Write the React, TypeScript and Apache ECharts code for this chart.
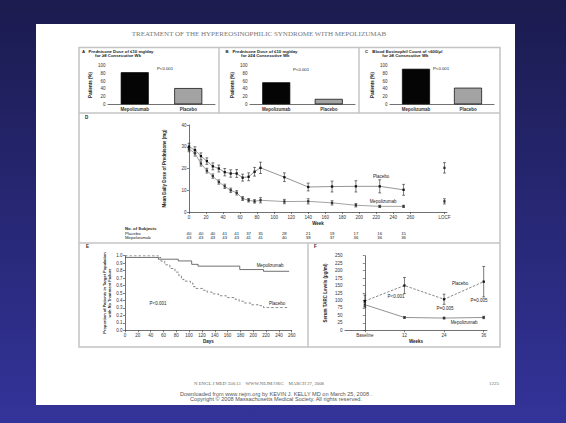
import React, { useEffect, useRef } from 'react';
import * as echarts from 'echarts';

// ---------- data ----------
const barCategories = ['Mepolizumab', 'Placebo'];
const panelAValues = [83, 42];
const panelBValues = [57, 14];
const panelCValues = [92, 43];
const barColors = ['#050505', '#a3a3a3'];

const weeksD = [0, 7, 14, 21, 28, 35, 42, 49, 56, 63, 70, 77, 84, 112, 140, 168, 196, 224, 252];
const placeboD = [30, 28.5, 25.7, 23.4, 21, 20, 18.3, 17.7, 17.7, 15.8, 16.2, 18.5, 20.3, 16, 11.5, 11.7, 11.8, 11.8, 10.2];
const placeboDErr = [1.6, 1.5, 1.5, 1.5, 1.6, 1.6, 1.7, 1.7, 1.8, 1.6, 1.8, 2, 2.6, 2, 1.8, 2.5, 2.6, 3, 2.5];
const mepoD = [29, 27, 22.3, 19, 16.5, 13.8, 11.8, 10, 8.8, 6.2, 5.4, 4.9, 5.4, 4.8, 4.9, 4.2, 3.1, 2.6, 2.6];
const mepoDErr = [1.3, 1.3, 1.2, 1.1, 1, 1, 1, 1, 1, 0.9, 0.8, 0.8, 1.2, 1, 1.2, 1, 0.8, 0.5, 0.5];
const locfWeek = 300;
const locfPlacebo = 20.3;
const locfPlaceboErr = 2.4;
const locfMepo = 4.9;
const locfMepoErr = 1.2;
const weekTickValues = [0, 20, 40, 60, 80, 100, 120, 140, 160, 180, 200, 220, 240, 260, 300];

const subjectWeeks = [0, 14, 28, 42, 56, 70, 84, 112, 140, 168, 196, 224, 252];
const subjectsPlacebo = [40, 40, 40, 41, 41, 37, 35, 28, 21, 19, 17, 16, 15];
const subjectsMepo = [43, 43, 43, 43, 43, 41, 41, 40, 38, 37, 36, 36, 36];
const subjectRows = ['Placebo', 'Mepolizumab'];

// Kaplan-Meier steps: [day, proportion after event]
const kmMepo: [number, number][] = [
  [0, 0.977], [52, 0.953], [83, 0.93], [104, 0.884], [114, 0.86], [179, 0.814], [216, 0.791], [256, 0.791],
];
const kmPlacebo: [number, number][] = [
  [0, 1.0], [52, 0.976], [56, 0.927], [62, 0.878], [70, 0.829], [78, 0.78], [84, 0.732], [88, 0.683],
  [92, 0.659], [102, 0.634], [106, 0.585], [110, 0.561], [122, 0.537], [128, 0.512], [136, 0.488],
  [146, 0.463], [158, 0.439], [172, 0.415], [178, 0.39], [185, 0.366], [196, 0.342], [208, 0.33],
  [216, 0.305], [256, 0.305],
];

const weeksF = [0, 12, 24, 36];
const placeboF = [98, 150, 104, 163];
const placeboFErr = [20, 27, 17, 51];
const mepoF = [86, 43, 41, 43];
const mepoFErr = [8, 3, 3, 4];

// ---------- helpers ----------
const FONT = 'Liberation Sans';
const AX = '#333';

function errorRender(params: any, api: any) {
  const x = api.value(0);
  const lo = api.coord([x, api.value(1)]);
  const hi = api.coord([x, api.value(2)]);
  const w = 1.4;
  const st = { stroke: '#222', lineWidth: 0.6 };
  return {
    type: 'group',
    children: [
      { type: 'line', shape: { x1: lo[0], y1: lo[1], x2: hi[0], y2: hi[1] }, style: st },
      { type: 'line', shape: { x1: lo[0] - w, y1: lo[1], x2: lo[0] + w, y2: lo[1] }, style: st },
      { type: 'line', shape: { x1: hi[0] - w, y1: hi[1], x2: hi[0] + w, y2: hi[1] }, style: st },
    ],
  };
}

function countRender(params: any, api: any) {
  const p = api.coord([api.value(0), api.value(1)]);
  return {
    type: 'text',
    x: p[0],
    y: p[1],
    style: {
      text: String(api.value(2)),
      fontSize: 4.3,
      fontFamily: FONT,
      fill: '#222222',
      stroke: 'none',
      align: 'center',
      verticalAlign: 'middle',
    },
  };
}

const axisBase = {
  axisLine: { lineStyle: { color: AX, width: 0.7 } },
  axisTick: { length: 2, lineStyle: { color: AX, width: 0.6 } },
  axisLabel: { fontSize: 4.5, color: '#333', margin: 2.5, fontFamily: FONT },
  splitLine: { show: false },
  nameTextStyle: { fontSize: 4.5, color: '#222', fontWeight: 'bold' as const, fontFamily: FONT },
};

function txt(x: number, y: number, text: string, size = 4.5, opts: any = {}) {
  return {
    type: 'text',
    x,
    y,
    silent: true,
    style: {
      text,
      fontSize: size,
      fontFamily: opts.family || FONT,
      fontWeight: opts.weight || 'normal',
      fill: opts.fill || '#222',
      align: opts.align || 'center',
      verticalAlign: 'middle',
    },
  };
}

function barPanel(gridIndex: number, values: number[]) {
  return {
    type: 'bar',
    xAxisIndex: gridIndex,
    yAxisIndex: gridIndex,
    barWidth: 28,
    data: values.map((v, i) => ({
      value: v,
      itemStyle: { color: barColors[i], borderColor: '#000', borderWidth: 0.7 },
    })),
  };
}

function barXAxis(gridIndex: number) {
  return {
    ...axisBase,
    type: 'category',
    gridIndex,
    data: barCategories,
    axisTick: { show: false },
    axisLabel: { ...axisBase.axisLabel, fontWeight: 'bold', margin: 3 },
  };
}
function barYAxis(gridIndex: number) {
  return {
    ...axisBase,
    type: 'value',
    gridIndex,
    min: 0,
    max: 100,
    interval: 20,
    name: 'Patients (%)',
    nameLocation: 'middle',
    nameGap: 15,
  };
}

export default function App() {
  const ref = useRef<HTMLDivElement>(null);
  useEffect(() => {
    if (!ref.current) return;
    const chart = echarts.init(ref.current, undefined, { renderer: 'svg' });

    const borderStyle = { stroke: '#c4c4c4', lineWidth: 1.5, fill: 'none' };
    const graphic: any[] = [
      {
        type: 'rect', silent: true, z: -10,
        shape: { x: 0, y: 0, width: 566, height: 423 },
        style: {
          fill: new echarts.graphic.LinearGradient(0, 0, 0, 1, [
            { offset: 0, color: '#1b1b4f' },
            { offset: 1, color: '#33339a' },
          ]),
        },
      },
      { type: 'rect', silent: true, z: -9, shape: { x: 36, y: 24, width: 479, height: 381 }, style: { fill: '#ffffff' } },
      { type: 'rect', silent: true, z: -8, shape: { x: 79, y: 47.5, width: 421, height: 299.5 }, style: borderStyle },
      { type: 'line', silent: true, shape: { x1: 219, y1: 47.5, x2: 219, y2: 113 }, style: borderStyle },
      { type: 'line', silent: true, shape: { x1: 359, y1: 47.5, x2: 359, y2: 113 }, style: borderStyle },
      { type: 'line', silent: true, shape: { x1: 79, y1: 113, x2: 500, y2: 113 }, style: borderStyle },
      { type: 'line', silent: true, shape: { x1: 79, y1: 243, x2: 500, y2: 243 }, style: borderStyle },
      { type: 'line', silent: true, shape: { x1: 308, y1: 243, x2: 308, y2: 347 }, style: borderStyle },
      // header & footer
      txt(259, 34, 'TREATMENT OF THE HYPEREOSINOPHILIC SYNDROME WITH MEPOLIZUMAB', 7, { family: 'Liberation Serif', fill: '#777' }),
      txt(259, 383, 'N ENGL J MED 358;13    WWW.NEJM.ORG    MARCH 27, 2008', 4.8, { family: 'Liberation Serif', fill: '#666' }),
      txt(499, 383, '1225', 5, { family: 'Liberation Serif', fill: '#666', align: 'right' }),
      txt(276, 393.5, 'Downloaded from www.nejm.org by KEVIN J. KELLY MD on March 25, 2008 .', 5.6, { fill: '#555' }),
      txt(276, 399.3, 'Copyright © 2008 Massachusetts Medical Society. All rights reserved.', 5.6, { fill: '#555' }),
      // panel titles
      txt(82, 51.5, 'A', 4.3, { weight: 'bold', align: 'left' }),
      txt(88.5, 51.5, 'Prednisone Dose of ≤10 mg/day', 4.3, { weight: 'bold', align: 'left' }),
      txt(95, 55.8, 'for ≥8 Consecutive Wk', 4.3, { weight: 'bold', align: 'left' }),
      txt(225.5, 51.5, 'B', 4.3, { weight: 'bold', align: 'left' }),
      txt(232.5, 51.5, 'Prednisone Dose of ≤10 mg/day', 4.3, { weight: 'bold', align: 'left' }),
      txt(241, 55.8, 'for ≥24 Consecutive Wk', 4.3, { weight: 'bold', align: 'left' }),
      txt(365, 51.5, 'C', 4.3, { weight: 'bold', align: 'left' }),
      txt(372.3, 51.5, 'Blood Eosinophil Count of <600/μl', 4.3, { weight: 'bold', align: 'left' }),
      txt(382.3, 55.8, 'for ≥8 Consecutive Wk', 4.3, { weight: 'bold', align: 'left' }),
      txt(157, 68, 'P<0.001', 4.3, { align: 'left' }),
      txt(293, 69, 'P<0.001', 4.3, { align: 'left' }),
      txt(433, 68, 'P<0.001', 4.3, { align: 'left' }),
      // panel D
      txt(85, 117, 'D', 4.5, { weight: 'bold', align: 'left' }),
      txt(381, 176, 'Placebo', 4.5),
      txt(383, 201, 'Mepolizumab', 4.5),
      txt(125, 228.5, 'No. of Subjects', 4.3, { weight: 'bold', align: 'left' }),
      txt(125, 233.3, 'Placebo', 4.3, { align: 'left' }),
      txt(125, 237.8, 'Mepolizumab', 4.3, { align: 'left' }),
      // panel E
      txt(86, 246, 'E', 4.5, { weight: 'bold', align: 'left' }),
      txt(270, 265, 'Mepolizumab', 4.5),
      txt(277, 303, 'Placebo', 4.5),
      txt(158, 303, 'P<0.001', 4.5),
      // panel F
      txt(314, 246, 'F', 4.5, { weight: 'bold', align: 'left' }),
      txt(460, 283, 'Placebo', 4.5),
      txt(464, 322, 'Mepolizumab', 4.5),
      txt(396, 296, 'P<0.001', 4.5),
      txt(445, 308, 'P=0.005', 4.5),
      txt(479, 300, 'P=0.005', 4.5),
    ];

    const option: any = {
      animation: false,
      textStyle: { fontFamily: FONT },
      graphic,
      grid: [
        { left: 108, top: 65.7, width: 107, height: 38.6 },
        { left: 250, top: 65.7, width: 105, height: 38.6 },
        { left: 390, top: 65.7, width: 104, height: 38.6 },
        { left: 189, top: 125, width: 258, height: 87 },
        { left: 189, top: 231, width: 258, height: 9 },
        { left: 125, top: 255.7, width: 166.7, height: 74.6 },
        { left: 345, top: 255.7, width: 142, height: 74.6 },
      ],
      xAxis: [
        barXAxis(0),
        barXAxis(1),
        barXAxis(2),
        {
          ...axisBase,
          type: 'value', gridIndex: 3, min: 0, max: 303, interval: 20,
          name: 'Week', nameLocation: 'middle', nameGap: 9,
          axisTick: { ...axisBase.axisTick, customValues: weekTickValues },
          axisLabel: {
            ...axisBase.axisLabel,
            customValues: weekTickValues,
            formatter: (v: number) => (v === locfWeek ? 'LOCF' : v === 280 ? '' : String(v)),
          },
        },
        { type: 'value', gridIndex: 4, min: 0, max: 303, show: false },
        {
          ...axisBase,
          type: 'value', gridIndex: 5, min: 0, max: 260, interval: 20,
          name: 'Days', nameLocation: 'middle', nameGap: 9,
        },
        {
          ...axisBase,
          type: 'value', gridIndex: 6, min: -6, max: 37,
          name: 'Weeks', nameLocation: 'middle', nameGap: 9,
          axisTick: { ...axisBase.axisTick, customValues: weeksF },
          axisLabel: {
            ...axisBase.axisLabel,
            customValues: weeksF,
            formatter: (v: number) => (v === 0 ? 'Baseline' : String(v)),
          },
        },
      ],
      yAxis: [
        barYAxis(0),
        barYAxis(1),
        barYAxis(2),
        {
          ...axisBase,
          type: 'value', gridIndex: 3, min: 0, max: 40, interval: 10,
          name: 'Mean Daily Dose of Prednisone (mg)', nameLocation: 'middle', nameGap: 22,
        },
        { type: 'category', gridIndex: 4, data: subjectRows, inverse: true, show: false },
        {
          ...axisBase,
          type: 'value', gridIndex: 5, min: 0, max: 1, interval: 0.1,
          axisLabel: { ...axisBase.axisLabel, formatter: (v: number) => v.toFixed(1) },
          name: 'Proportion of Patients in Target Population\nwith No Treatment Failure',
          nameLocation: 'middle', nameGap: 11,
          nameTextStyle: { ...axisBase.nameTextStyle, fontSize: 4, lineHeight: 5 },
        },
        {
          ...axisBase,
          type: 'value', gridIndex: 6, min: 0, max: 250, interval: 25,
          name: 'Serum TARC Levels (pg/ml)', nameLocation: 'middle', nameGap: 17,
        },
      ],
      series: [
        barPanel(0, panelAValues),
        barPanel(1, panelBValues),
        barPanel(2, panelCValues),
        // Panel D
        {
          type: 'line', xAxisIndex: 3, yAxisIndex: 3,
          data: weeksD.map((w, i) => [w, placeboD[i]]),
          lineStyle: { color: '#7a7a7a', width: 0.8 },
          symbol: 'rect', symbolSize: 2.3, itemStyle: { color: '#111' },
        },
        {
          type: 'line', xAxisIndex: 3, yAxisIndex: 3,
          data: weeksD.map((w, i) => [w, mepoD[i]]),
          lineStyle: { color: '#8a8a8a', width: 0.8 },
          symbol: 'rect', symbolSize: 2.3, itemStyle: { color: '#333' },
        },
        {
          type: 'scatter', xAxisIndex: 3, yAxisIndex: 3,
          data: [[locfWeek, locfPlacebo], [locfWeek, locfMepo]],
          symbol: 'rect', symbolSize: 2.3, itemStyle: { color: '#111' },
        },
        {
          type: 'custom', xAxisIndex: 3, yAxisIndex: 3, renderItem: errorRender,
          itemStyle: { color: '#222' },
          encode: { x: 0, y: [1, 2] },
          data: [
            ...weeksD.map((w, i) => [w, placeboD[i] - placeboDErr[i], placeboD[i] + placeboDErr[i]]),
            ...weeksD.map((w, i) => [w, mepoD[i] - mepoDErr[i], mepoD[i] + mepoDErr[i]]),
            [locfWeek, locfPlacebo - locfPlaceboErr, locfPlacebo + locfPlaceboErr],
            [locfWeek, locfMepo - locfMepoErr, locfMepo + locfMepoErr],
          ],
        },
        // subject counts
        {
          type: 'custom', xAxisIndex: 4, yAxisIndex: 4, renderItem: countRender,
          itemStyle: { color: '#222' },
          encode: { x: 0, y: 1 },
          data: [
            ...subjectWeeks.map((w, i) => [w, 0, subjectsPlacebo[i]]),
            ...subjectWeeks.map((w, i) => [w, 1, subjectsMepo[i]]),
          ],
        },
        // Panel E
        {
          type: 'line', xAxisIndex: 5, yAxisIndex: 5, step: 'end', symbol: 'none',
          data: kmMepo, lineStyle: { color: '#333', width: 0.7 },
        },
        {
          type: 'line', xAxisIndex: 5, yAxisIndex: 5, step: 'end', symbol: 'none',
          data: kmPlacebo, lineStyle: { color: '#555', width: 0.7, type: [2.5, 2] },
        },
        // Panel F
        {
          type: 'line', xAxisIndex: 6, yAxisIndex: 6,
          data: weeksF.map((w, i) => [w, placeboF[i]]),
          lineStyle: { color: '#555', width: 0.7, type: [2.5, 1.5] },
          symbol: 'rect', symbolSize: 2.3, itemStyle: { color: '#111' },
        },
        {
          type: 'line', xAxisIndex: 6, yAxisIndex: 6,
          data: weeksF.map((w, i) => [w, mepoF[i]]),
          lineStyle: { color: '#777', width: 0.8 },
          symbol: 'rect', symbolSize: 2.3, itemStyle: { color: '#333' },
        },
        {
          type: 'custom', xAxisIndex: 6, yAxisIndex: 6, renderItem: errorRender,
          itemStyle: { color: '#222' },
          encode: { x: 0, y: [1, 2] },
          data: [
            ...weeksF.map((w, i) => [w, placeboF[i] - placeboFErr[i], placeboF[i] + placeboFErr[i]]),
            ...weeksF.map((w, i) => [w, mepoF[i] - mepoFErr[i], mepoF[i] + mepoFErr[i]]),
          ],
        },
      ],
    };
    chart.setOption(option);
    return () => chart.dispose();
  }, []);

  return (
    <div
      ref={ref}
      style={{ position: 'absolute', left: 0, top: 0, width: 566, height: 423 }}
    />
  );
}
